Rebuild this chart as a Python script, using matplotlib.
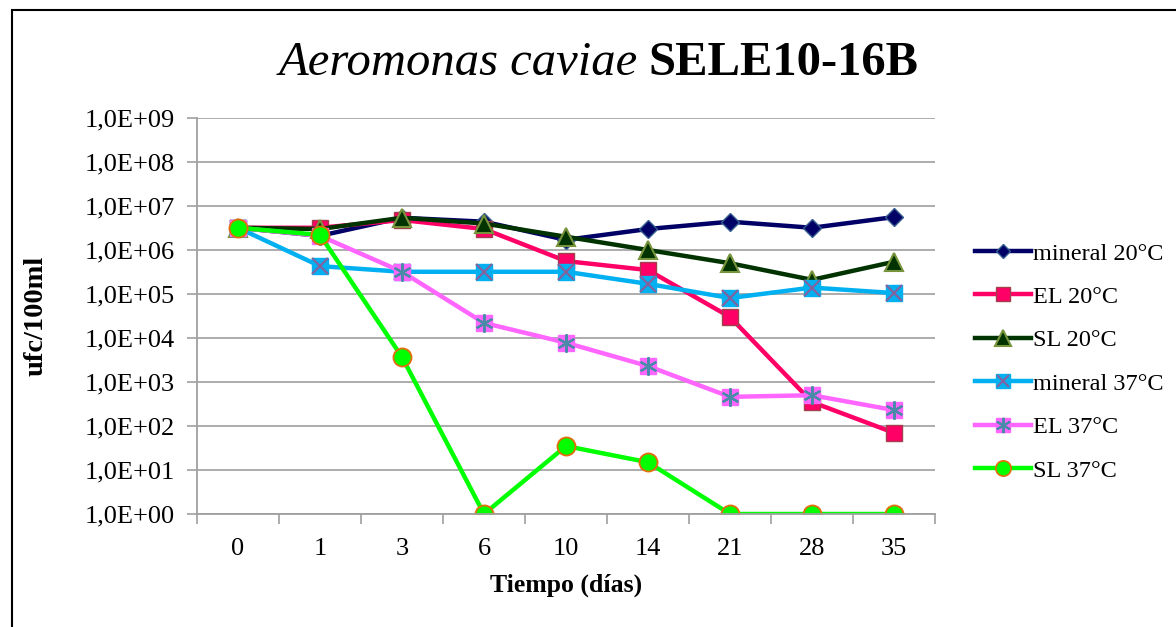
import numpy as np
import matplotlib
matplotlib.use("Agg")
import matplotlib.pyplot as plt
from matplotlib.lines import Line2D
from matplotlib.patches import Rectangle
from matplotlib.legend_handler import HandlerTuple

# ── data (ufc/100ml) ──────────────────────────────────────────────────────────
days = ["0", "1", "3", "6", "10", "14", "21", "28", "35"]
mineral_20 = [3.2e6, 2.1e6, 5.4e6, 4.4e6, 1.7e6, 3.0e6, 4.4e6, 3.2e6, 5.6e6]
el_20      = [3.2e6, 3.2e6, 4.8e6, 3.0e6, 5.6e5, 3.5e5, 3.0e4, 3.5e2, 7.0e1]
sl_20      = [3.2e6, 3.0e6, 5.4e6, 4.0e6, 2.0e6, 1.0e6, 5.0e5, 2.1e5, 5.4e5]
mineral_37 = [3.2e6, 4.3e5, 3.2e5, 3.2e5, 3.2e5, 1.7e5, 8.1e4, 1.4e5, 1.05e5]
el_37      = [3.2e6, 2.1e6, 3.2e5, 2.2e4, 7.8e3, 2.3e3, 4.6e2, 5.0e2, 2.3e2]
sl_37      = [3.2e6, 2.2e6, 3.7e3, 1.0, 35.0, 15.0, 1.0, 1.0, 1.0]

plt.rcParams["font.family"] = ["Liberation Serif", "DejaVu Serif"]

fig = plt.figure(figsize=(11.76, 6.27), dpi=100)
fig.patches.append(Rectangle((12 / 1176, -0.1), 1.2, 1 - 10 / 627 + 0.1,
                             transform=fig.transFigure, fill=False,
                             edgecolor="black", linewidth=1.5))
ax = fig.add_axes([197 / 1176, 1 - 514 / 627, 738 / 1176, 396 / 627])
x = np.arange(len(days))

lw = 3.2
ax.plot(x, mineral_20, color="#000066", lw=lw, marker="D", ms=9,
        mfc="#000066", mec="#365F91", mew=1)
ax.plot(x, el_20, color="#FF0066", lw=lw, marker="s", ms=12,
        mfc="#FF0066", mec="#A0404A", mew=1)
ax.plot(x, sl_20, color="#003300", lw=lw, marker="^", ms=13,
        mfc="#003300", mec="#77933C", mew=1.5)
ax.plot(x, mineral_37, color="#00B0F0", lw=lw, marker="s", ms=12,
        mfc="#00B0F0", mec="#00B0F0", mew=1)
ax.plot(x, mineral_37, ls="none", marker="x", ms=11, mec="#8064A2", mew=1.6)
ax.plot(x, el_37, color="#FF66FF", lw=lw, marker="s", ms=12,
        mfc="#FF66FF", mec="#FF66FF", mew=1)
ax.plot(x, el_37, ls="none", marker=(6, 2, 0), ms=13, mec="#4A8AA8", mew=1.6)
ax.plot(x, sl_37, color="#00FF00", lw=lw, marker="o", ms=13,
        mfc="#00FF00", mec="#E46C0A", mew=1.3)

ax.set_yscale("log")
ax.set_ylim(1, 1e9)
ax.set_xlim(-0.5, len(days) - 0.5)
yt = [10.0 ** k for k in range(10)]
ax.set_yticks(yt)
ax.set_yticklabels([f"1,0E+{k:02d}" for k in range(10)], fontsize=19)
ax.minorticks_off()
ax.set_xticks(x)
ax.set_xticklabels(days, fontsize=19)
ax.set_xticks(np.arange(-0.5, len(days)), minor=True)
ax.tick_params(axis="x", which="major", length=0, pad=17)
ax.tick_params(axis="x", which="minor", length=7, color="#A0A0A0", width=1.2)
ax.tick_params(axis="y", length=7, color="#A0A0A0", width=1.2, pad=9)
ax.grid(axis="y", color="#A6A6A6", lw=1.3)
ax.set_axisbelow(True)
for s in ["top", "right"]:
    ax.spines[s].set_visible(False)
for s in ["left", "bottom"]:
    ax.spines[s].set_color("#A0A0A0")
    ax.spines[s].set_linewidth(1.3)

ax.set_ylabel("ufc/100ml", fontsize=20.5, fontweight="bold")
ax.yaxis.set_label_coords(-(197 - 36) / 738, 0.5)
ax.set_xlabel("Tiempo (días)", fontsize=18.5, fontweight="bold")
ax.xaxis.set_label_coords(0.5, -(585 - 514) / 396)
ax.xaxis.label.set_va("center")
ax.yaxis.label.set_va("center")

fig.text(638 / 1176, 1 - 63 / 627, "Aeromonas caviae", fontsize=35,
         style="italic", ha="right", va="center")
fig.text(648 / 1176, 1 - 63 / 627, "SELE10-16B", fontsize=35,
         fontweight="bold", ha="left", va="center")

# legend
def h(color, marker, ms, mfc, mec, mew=1):
    return Line2D([], [], color=color, lw=lw, marker=marker, ms=ms,
                  mfc=mfc, mec=mec, mew=mew)

handles = [
    h("#000066", "D", 7, "#000066", "#365F91"),
    h("#FF0066", "s", 10, "#FF0066", "#A0404A"),
    h("#003300", "^", 11, "#003300", "#77933C", 1.5),
    (h("#00B0F0", "s", 10, "#00B0F0", "#00B0F0"),
     Line2D([], [], ls="none", marker="x", ms=9, mec="#8064A2", mew=1.5)),
    (h("#FF66FF", "s", 10, "#FF66FF", "#FF66FF"),
     Line2D([], [], ls="none", marker=(6, 2, 0), ms=11, mec="#4A8AA8", mew=1.5)),
    h("#00FF00", "o", 11, "#00FF00", "#E46C0A", 1.2),
]
labels = ["mineral 20°C", "EL 20°C", "SL 20°C", "mineral 37°C", "EL 37°C", "SL 37°C"]
fig.legend(handles, labels, loc="center left",
           bbox_to_anchor=(953 / 1176, 1 - 362 / 627), frameon=False,
           fontsize=17.5, handlelength=2.3, handletextpad=0.1, labelspacing=0.88,
           handler_map={tuple: HandlerTuple(ndivide=1, pad=0)})

fig.savefig("out.png", dpi=100)
